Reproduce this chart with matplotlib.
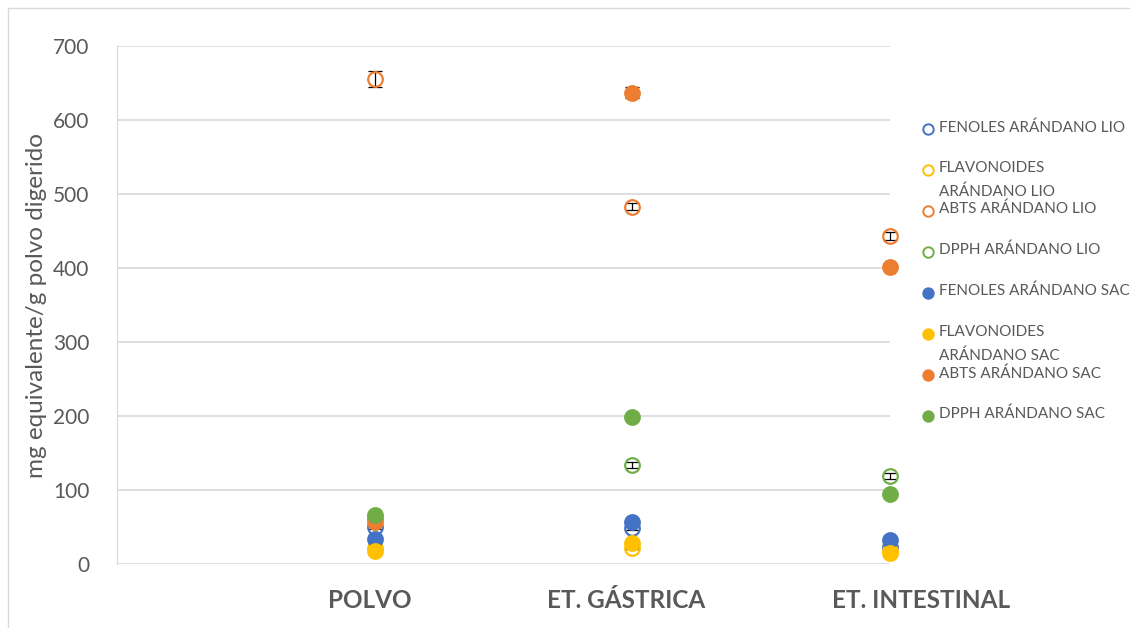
import numpy as np
import matplotlib.pyplot as plt
import matplotlib.transforms as mtransforms
from matplotlib.lines import Line2D
from matplotlib.patches import Rectangle

plt.rcParams['font.family'] = ['Lato', 'DejaVu Sans']

etapas = ['POLVO', 'ET. GÁSTRICA', 'ET. INTESTINAL']
x = np.array([1, 2, 3])

# valores medios (mg equivalente / g polvo digerido)
fenoles_lio = [50, 49, 23]
flavonoides_lio = [22, 22, 18]
abts_lio = [655, 483, 443]
dpph_lio = [62, 134, 119]
fenoles_sac = [34, 57, 32]
flavonoides_sac = [18, 28, 15]
abts_sac = [57, 637, 401]
dpph_sac = [66, 199, 95]

# desviaciones
err_fenoles_lio = [3, 3, 2]
err_flavonoides_lio = [2, 2, 1]
err_abts_lio = [11, 5, 5]
err_dpph_lio = [3, 4, 4]
err_fenoles_sac = [2, 2, 2]
err_flavonoides_sac = [1, 2, 1]
err_abts_sac = [2, 7, 3]
err_dpph_sac = [2, 3, 3]

azul, amarillo, naranja, verde = '#4472C4', '#FFC000', '#ED7D31', '#70AD47'
gris = '#595959'

series = [
    ('FENOLES ARÁNDANO LIO', fenoles_lio, err_fenoles_lio, azul, False),
    ('FLAVONOIDES\nARÁNDANO LIO', flavonoides_lio, err_flavonoides_lio, amarillo, False),
    ('ABTS ARÁNDANO LIO', abts_lio, err_abts_lio, naranja, False),
    ('DPPH ARÁNDANO LIO', dpph_lio, err_dpph_lio, verde, False),
    ('FENOLES ARÁNDANO SAC', fenoles_sac, err_fenoles_sac, azul, True),
    ('FLAVONOIDES\nARÁNDANO SAC', flavonoides_sac, err_flavonoides_sac, amarillo, True),
    ('ABTS ARÁNDANO SAC', abts_sac, err_abts_sac, naranja, True),
    ('DPPH ARÁNDANO SAC', dpph_sac, err_dpph_sac, verde, True),
]

fig = plt.figure(figsize=(11.3, 6.28), dpi=100)
ax = fig.add_axes([117 / 1130, 1 - 564 / 628, (890 - 117) / 1130, (564 - 46) / 628])

# marco del área del gráfico
fig.patches.append(Rectangle((8 / 1130, -0.1), 1.2, 1 - 8 / 628 + 0.1,
                             transform=fig.transFigure, fill=False,
                             edgecolor='#D9D9D9', lw=1))

for i, (nombre, vals, errs, color, relleno) in enumerate(series):
    z = 3 + i * 0.1
    ax.errorbar(x, vals, yerr=errs, fmt='none', ecolor='black', elinewidth=0.9,
                capsize=5, capthick=0.9, clip_on=False, zorder=z)
    ax.plot(x, vals, 'o', ms=10.5, mec=color, mew=1.6,
            mfc=color if relleno else 'none', clip_on=False, zorder=z + 0.05)

ax.set_xlim(0, 3)
ax.set_ylim(0, 700)
ax.set_yticks(np.arange(0, 701, 100))
ax.grid(axis='y', color='#D9D9D9', lw=1.2)
ax.set_axisbelow(True)
for s in ['top', 'right', 'bottom']:
    ax.spines[s].set_visible(False)
ax.spines['left'].set_color('#D9D9D9')
ax.tick_params(axis='y', length=0, pad=20, labelsize=15, labelcolor=gris)
ax.tick_params(axis='x', length=0, pad=18)
ax.set_xticks(x)
ax.set_xticklabels(etapas, fontsize=17.5, fontweight='bold', color=gris)
desplaz = [-5, -6, 31]
for lab, dx in zip(ax.get_xticklabels(), desplaz):
    lab.set_transform(lab.get_transform() +
                      mtransforms.ScaledTranslation(dx / 100, 0, fig.dpi_scale_trans))
ax.set_ylabel('mg equivalente/g polvo digerido', fontsize=17.5, color=gris, labelpad=4)

# leyenda a la derecha
ley_y = [129, 170, 211, 252, 293, 334, 375, 416]
for (nombre, vals, errs, color, relleno), yp in zip(series, ley_y):
    fy = 1 - yp / 628
    fig.lines.append(Line2D([928 / 1130], [fy], marker='o', ms=7.5, mec=color, mew=1.4,
                            mfc=color if relleno else 'none',
                            transform=fig.transFigure))
    fig.text(939 / 1130, fy + 9 / 628, nombre, fontsize=11, color=gris, va='top',
             linespacing=1.8, transform=fig.transFigure)

fig.savefig('out.png', dpi=100)
